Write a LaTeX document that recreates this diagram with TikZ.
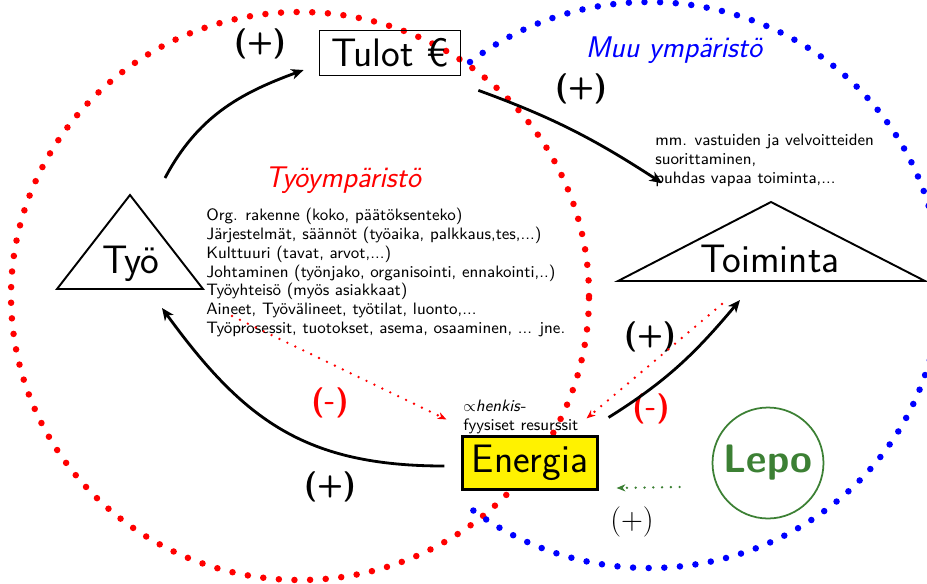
\documentclass[tikz,border=0pt]{standalone}
\usepackage{amsmath}
\usepackage{tikz}
\usetikzlibrary{arrows.meta}

\definecolor{lepogreen}{RGB}{60,128,52}
\tikzset{
  bigtext/.style={font=\sffamily\fontsize{22.6}{27}\selectfont},
  smalltext/.style={font=\sffamily\fontsize{9.4}{10.7}\selectfont, align=left, inner sep=0pt},
  envlabel/.style={font=\sffamily\itshape\fontsize{17}{20}\selectfont},
  plussign/.style={font=\sffamily\bfseries\LARGE},
  minussign/.style={font=\sffamily\bfseries\LARGE, text=red},
  zonedots/.style={line width=3.7pt, line cap=round, dash pattern=on 0pt off 8.9pt},
  flowarrow/.style={->, line width=1.6pt},
  weakarrow/.style={-{Stealth[length=5pt,width=4pt,inset=1.5pt]}, line width=1.5pt, line cap=round, dash pattern=on 0pt off 5pt},
}

\begin{document}
\begin{tikzpicture}[x=0.02cm, y=0.02cm, font=\sffamily, >={Stealth[length=7pt,width=6pt,inset=2pt]}]
    \useasboundingbox (0,0) rectangle (927,-583);
    \clip (0,0) rectangle (927,-583);
    % environments
    \draw[zonedots, red] (300,-296) ellipse (289 and 284);
    \draw[zonedots, blue] (470,-62) arc[start angle=128, end angle=-128, x radius=291, y radius=283];
    \node[envlabel, text=red] (workenv) at (343,-180) {Työympäristö};
    \node[envlabel, text=blue] (otherenv) at (674,-50) {Muu ympäristö};
    % Työ
    \coordinate (tyotop) at (130,-195);
    \coordinate (tyoleft) at (57,-289);
    \coordinate (tyoright) at (203,-289);
    \draw[line width=1.1pt] (tyotop) -- (tyoleft) -- (tyoright) -- cycle;
    \node[bigtext, anchor=base] (tyo) at (131,-273) {Työ};
    % Toiminta
    \coordinate (toitop) at (771,-202);
    \coordinate (toileft) at (618,-281);
    \coordinate (toiright) at (925,-281);
    \draw[line width=1.1pt] (toitop) -- (toileft) -- (toiright) -- cycle;
    \node[bigtext, anchor=base] (toiminta) at (770,-272) {Toiminta};
    % Tulot, Energia, Lepo
    \node[bigtext, draw, line width=1pt, minimum width=2.82cm, minimum height=0.9cm, inner sep=0pt] (tulot) at (390,-53) {Tulot €};
    \node[bigtext, draw, fill=yellow, line width=1.2pt, minimum width=2.7cm, minimum height=1.06cm, inner sep=0pt] (energia) at (530,-463) {Energia};
    \node[circle, draw=lepogreen, line width=1pt, minimum size=2.22cm, inner sep=0pt, text=lepogreen, font=\sffamily\bfseries\fontsize{22.6}{27}\selectfont] (lepo) at (768,-463) {Lepo};
    % texts
    \node[smalltext, anchor=north west] (workitems) at (206,-208) {Org. rakenne (koko, päätöksenteko)\\
        Järjestelmät, säännöt (työaika, palkkaus,tes,...)\\
        Kulttuuri (tavat, arvot,...)\\
        Johtaminen (työnjako, organisointi, ennakointi,..)\\
        Työyhteisö (myös asiakkaat)\\
        Aineet, Työvälineet, työtilat, luonto,...\\
        Työprosessit, tuotokset, asema, osaaminen, ... jne.};
    \node[smalltext, anchor=north west] (duties) at (655,-134) {mm. vastuiden ja velvoitteiden\\suorittaminen,\\puhdas vapaa toiminta,...};
    \node[smalltext, anchor=north west] (resources) at (463,-400) {$\propto$\textit{henkis}-\\fyysiset resurssit};
    % signs
    \node[plussign] (plusa) at (260,-44) {(+)};
    \node[plussign] (plusb) at (581,-89) {(+)};
    \node[plussign] (plusc) at (650,-337) {(+)};
    \node[plussign] (plusd) at (330,-487) {(+)};
    \node[minussign] (minusa) at (330,-403) {(-)};
    \node[minussign] (minusb) at (651,-409) {(-)};
    \node[font=\LARGE] (pluse) at (632,-522) {$(+)$};
    % arrows
    \coordinate (tyoout) at (165,-178);
    \coordinate (tyoin) at (162,-308);
    \coordinate (dutyin) at (662,-183);
    \coordinate (toiin) at (740,-300);
    \coordinate (toiout) at (722,-304);
    \coordinate (workout) at (232,-316);
    \draw[flowarrow] (tyoout) to[out=62, in=200] ([shift={(-15,-17)}]tulot.west);
    \draw[flowarrow] ([shift={(17,-14)}]tulot.south east) to[out=-20, in=147] (dutyin);
    \draw[flowarrow] ([shift={(10,18)}]energia.north east) to[out=32, in=230] (toiin);
    \draw[flowarrow] ([shift={(-17,-3)}]energia.west) to[out=180, in=-54, looseness=1.1] (tyoin);
    \draw[weakarrow, red] (workout) -- ([shift={(-15,16)}]energia.north west);
    \draw[weakarrow, red] (toiout) -- ([shift={(-12,17)}]energia.north east);
    \draw[weakarrow, lepogreen] ([shift={(-32,-24)}]lepo.west) -- ([shift={(18,-25)}]energia.east);
\end{tikzpicture}
\end{document}
